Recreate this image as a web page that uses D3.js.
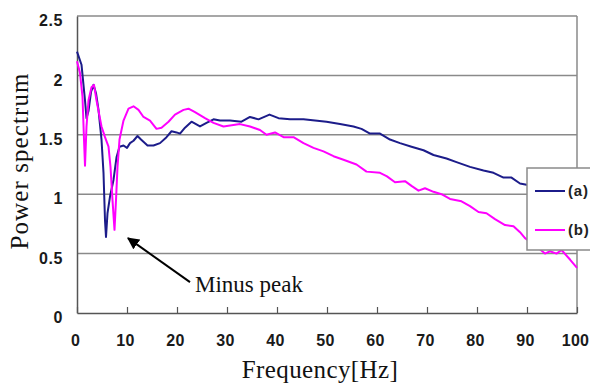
<!DOCTYPE html>
<html>
<head>
<meta charset="utf-8">
<script src="https://cdn.jsdelivr.net/npm/d3@7"></script>
<style>
  body { margin: 0; background: #fff; }
  svg { display: block; }
</style>
</head>
<body>
<svg id="chart" width="590" height="385"></svg>
<script>
// Frequency [Hz] / power spectrum samples
const freqA = [0, 0.9, 1.6, 1.9, 2.3, 2.8, 3.3, 3.8, 4.3, 4.9, 5.3, 5.6, 5.8, 6.1, 6.6, 7.3, 7.9, 8.5, 9.3, 10.0, 10.6, 11.3, 12.1, 12.8, 14.1, 15.3, 16.6, 17.9, 18.9, 19.9, 20.6, 21.6, 22.9, 24.6, 25.9, 27.3, 28.6, 30.6, 32.9, 34.6, 36.3, 38.5, 40.3, 42.6, 45.3, 47.6, 49.9, 52.6, 55.3, 56.9, 58.6, 60.6, 62.6, 64.6, 66.9, 69.3, 71.3, 73.9, 75.9, 78.6, 81.3, 83.3, 85.3, 86.9, 88.6, 89.9, 92, 95, 98, 100];
const valA = [2.20, 2.09, 1.79, 1.64, 1.70, 1.86, 1.92, 1.85, 1.71, 1.46, 1.18, 0.78, 0.64, 0.84, 0.98, 1.12, 1.31, 1.40, 1.41, 1.39, 1.43, 1.45, 1.49, 1.46, 1.41, 1.41, 1.43, 1.48, 1.53, 1.52, 1.51, 1.56, 1.61, 1.57, 1.60, 1.63, 1.62, 1.62, 1.61, 1.65, 1.63, 1.67, 1.64, 1.63, 1.63, 1.62, 1.61, 1.59, 1.57, 1.55, 1.51, 1.51, 1.46, 1.43, 1.40, 1.37, 1.33, 1.30, 1.27, 1.23, 1.20, 1.18, 1.14, 1.14, 1.09, 1.08, 1.06, 1.04, 1.02, 1.00];

const freqB = [0, 0.6, 1.1, 1.4, 1.6, 1.9, 2.3, 2.9, 3.4, 3.9, 4.9, 5.6, 6.3, 6.7, 7.1, 7.5, 7.8, 8.1, 8.5, 9.3, 10.3, 11.3, 12.3, 13.3, 14.6, 15.9, 16.9, 18.3, 19.6, 21.3, 22.3, 23.6, 25.6, 27.3, 29.3, 32.6, 34.6, 36.6, 37.9, 39.6, 41.3, 43.3, 45.3, 47.3, 49.3, 51.3, 53.3, 55.9, 57.9, 60.6, 62.0, 63.6, 65.6, 66.9, 68.3, 69.6, 71.3, 72.9, 74.6, 76.9, 78.6, 80.3, 81.9, 83.6, 85.6, 87.3, 88.6, 89.6, 91.6, 93.6, 94.6, 95.9, 96.9, 98.6, 100];
const valB = [2.12, 2.02, 1.82, 1.46, 1.24, 1.57, 1.79, 1.90, 1.92, 1.79, 1.57, 1.48, 1.40, 1.23, 0.95, 0.70, 0.95, 1.23, 1.46, 1.62, 1.72, 1.74, 1.71, 1.65, 1.62, 1.55, 1.56, 1.61, 1.67, 1.71, 1.72, 1.69, 1.64, 1.60, 1.57, 1.59, 1.57, 1.54, 1.50, 1.52, 1.48, 1.48, 1.43, 1.39, 1.36, 1.32, 1.29, 1.25, 1.19, 1.18, 1.15, 1.10, 1.11, 1.07, 1.03, 1.05, 1.02, 1.00, 0.96, 0.94, 0.90, 0.85, 0.84, 0.79, 0.74, 0.73, 0.68, 0.63, 0.57, 0.50, 0.52, 0.50, 0.53, 0.45, 0.38];

const seriesNames = ['(a)', '(b)'];
const seriesColors = ['#1c1c8a', '#ff00ff'];
const xTicks = [0, 10, 20, 30, 40, 50, 60, 70, 80, 90, 100];
const yTicks = [0, 0.5, 1, 1.5, 2, 2.5];

const margin = { top: 16, right: 13, bottom: 72, left: 77 };
const width = 590 - margin.left - margin.right;
const height = 385 - margin.top - margin.bottom;

const sans = '"Liberation Sans", Arial, sans-serif';
const serif = '"Liberation Serif", "Times New Roman", serif';

const svg = d3.select('#chart');
const g = svg.append('g').attr('transform', `translate(${margin.left},${margin.top})`);

const x = d3.scaleLinear().domain([0, 100]).range([0, width]);
const y = d3.scaleLinear().domain([0, 2.5]).range([height, 0]);

// horizontal grid lines
g.append('g')
  .selectAll('line')
  .data(yTicks.filter((d) => d > 0))
  .join('line')
  .attr('x1', 0)
  .attr('x2', width)
  .attr('y1', (d) => y(d))
  .attr('y2', (d) => y(d))
  .attr('stroke', '#8a8a8a')
  .attr('stroke-width', 1.5);

// right border
g.append('line')
  .attr('x1', width).attr('x2', width)
  .attr('y1', 0).attr('y2', height)
  .attr('stroke', '#8a8a8a')
  .attr('stroke-width', 1.5);

// x axis with inward ticks
const xAxis = g.append('g')
  .attr('transform', `translate(0,${height})`)
  .call(d3.axisBottom(x).tickValues(xTicks).tickSizeInner(-6).tickSizeOuter(0).tickPadding(22));
xAxis.select('.domain').attr('stroke', '#555').attr('stroke-width', 1.5);
xAxis.selectAll('line').attr('stroke', '#555').attr('stroke-width', 1.2);
xAxis.selectAll('text')
  .attr('fill', '#1a1a1a')
  .attr('dx', -2)
  .style('font-family', sans)
  .style('font-size', '16px')
  .style('font-weight', 'bold')
  .style('letter-spacing', '0.3px');

// y axis
const yAxis = g.append('g')
  .call(d3.axisLeft(y).tickValues(yTicks).tickSize(0).tickPadding(14).tickFormat(d3.format('')));
yAxis.select('.domain').attr('stroke', '#555').attr('stroke-width', 1.5);
yAxis.selectAll('text')
  .attr('fill', '#1a1a1a')
  .attr('dy', '0.6em')
  .style('font-family', sans)
  .style('font-size', '16px')
  .style('font-weight', 'bold')
  .style('letter-spacing', '0.6px');

// axis titles
svg.append('text')
  .attr('x', 320)
  .attr('y', 378)
  .attr('text-anchor', 'middle')
  .style('font-family', serif)
  .style('font-size', '25px')
  .style('letter-spacing', '0.4px')
  .attr('fill', '#111')
  .text('Frequency[Hz]');

svg.append('text')
  .attr('transform', 'translate(28,161) rotate(-90)')
  .attr('text-anchor', 'middle')
  .style('font-family', serif)
  .style('font-size', '25px')
  .style('letter-spacing', '1.1px')
  .attr('fill', '#111')
  .text('Power spectrum');

// series
const line = d3.line().x((d) => x(d[0])).y((d) => y(d[1]));
const seriesData = [d3.zip(freqA, valA), d3.zip(freqB, valB)];

g.selectAll('path.series')
  .data(seriesData)
  .join('path')
  .attr('class', 'series')
  .attr('d', line)
  .attr('fill', 'none')
  .attr('stroke', (d, i) => seriesColors[i])
  .attr('stroke-width', 2)
  .attr('stroke-linejoin', 'round');

// legend
const legend = svg.append('g').attr('transform', 'translate(527,168)');
legend.append('rect')
  .attr('width', 70)
  .attr('height', 82)
  .attr('fill', '#fff')
  .attr('stroke', '#8a8a8a')
  .attr('stroke-width', 1.5);
seriesNames.forEach((name, i) => {
  const ly = 23 + i * 39;
  legend.append('line')
    .attr('x1', 8).attr('x2', 38)
    .attr('y1', ly).attr('y2', ly)
    .attr('stroke', seriesColors[i])
    .attr('stroke-width', 2);
  legend.append('text')
    .attr('x', 41)
    .attr('y', ly + 5)
    .style('font-family', sans)
    .style('font-size', '15px')
    .style('font-weight', 'bold')
    .style('letter-spacing', '0.8px')
    .attr('fill', '#222')
    .text(name);
});

// annotation
svg.append('defs').append('marker')
  .attr('id', 'arrow')
  .attr('viewBox', '0 0 10 10')
  .attr('refX', 9)
  .attr('refY', 5)
  .attr('markerWidth', 6)
  .attr('markerHeight', 6)
  .attr('orient', 'auto')
  .append('path')
  .attr('d', 'M0,0 L10,5 L0,10 z')
  .attr('fill', '#000');

g.append('line')
  .attr('x1', x(22.6)).attr('y1', y(0.26))
  .attr('x2', x(10.2)).attr('y2', y(0.63))
  .attr('stroke', '#000')
  .attr('stroke-width', 2)
  .attr('marker-end', 'url(#arrow)');

g.append('text')
  .attr('x', x(23.6))
  .attr('y', y(0.175))
  .style('font-family', serif)
  .style('font-size', '23px')
  .attr('fill', '#111')
  .text('Minus peak');
</script>
</body>
</html>
